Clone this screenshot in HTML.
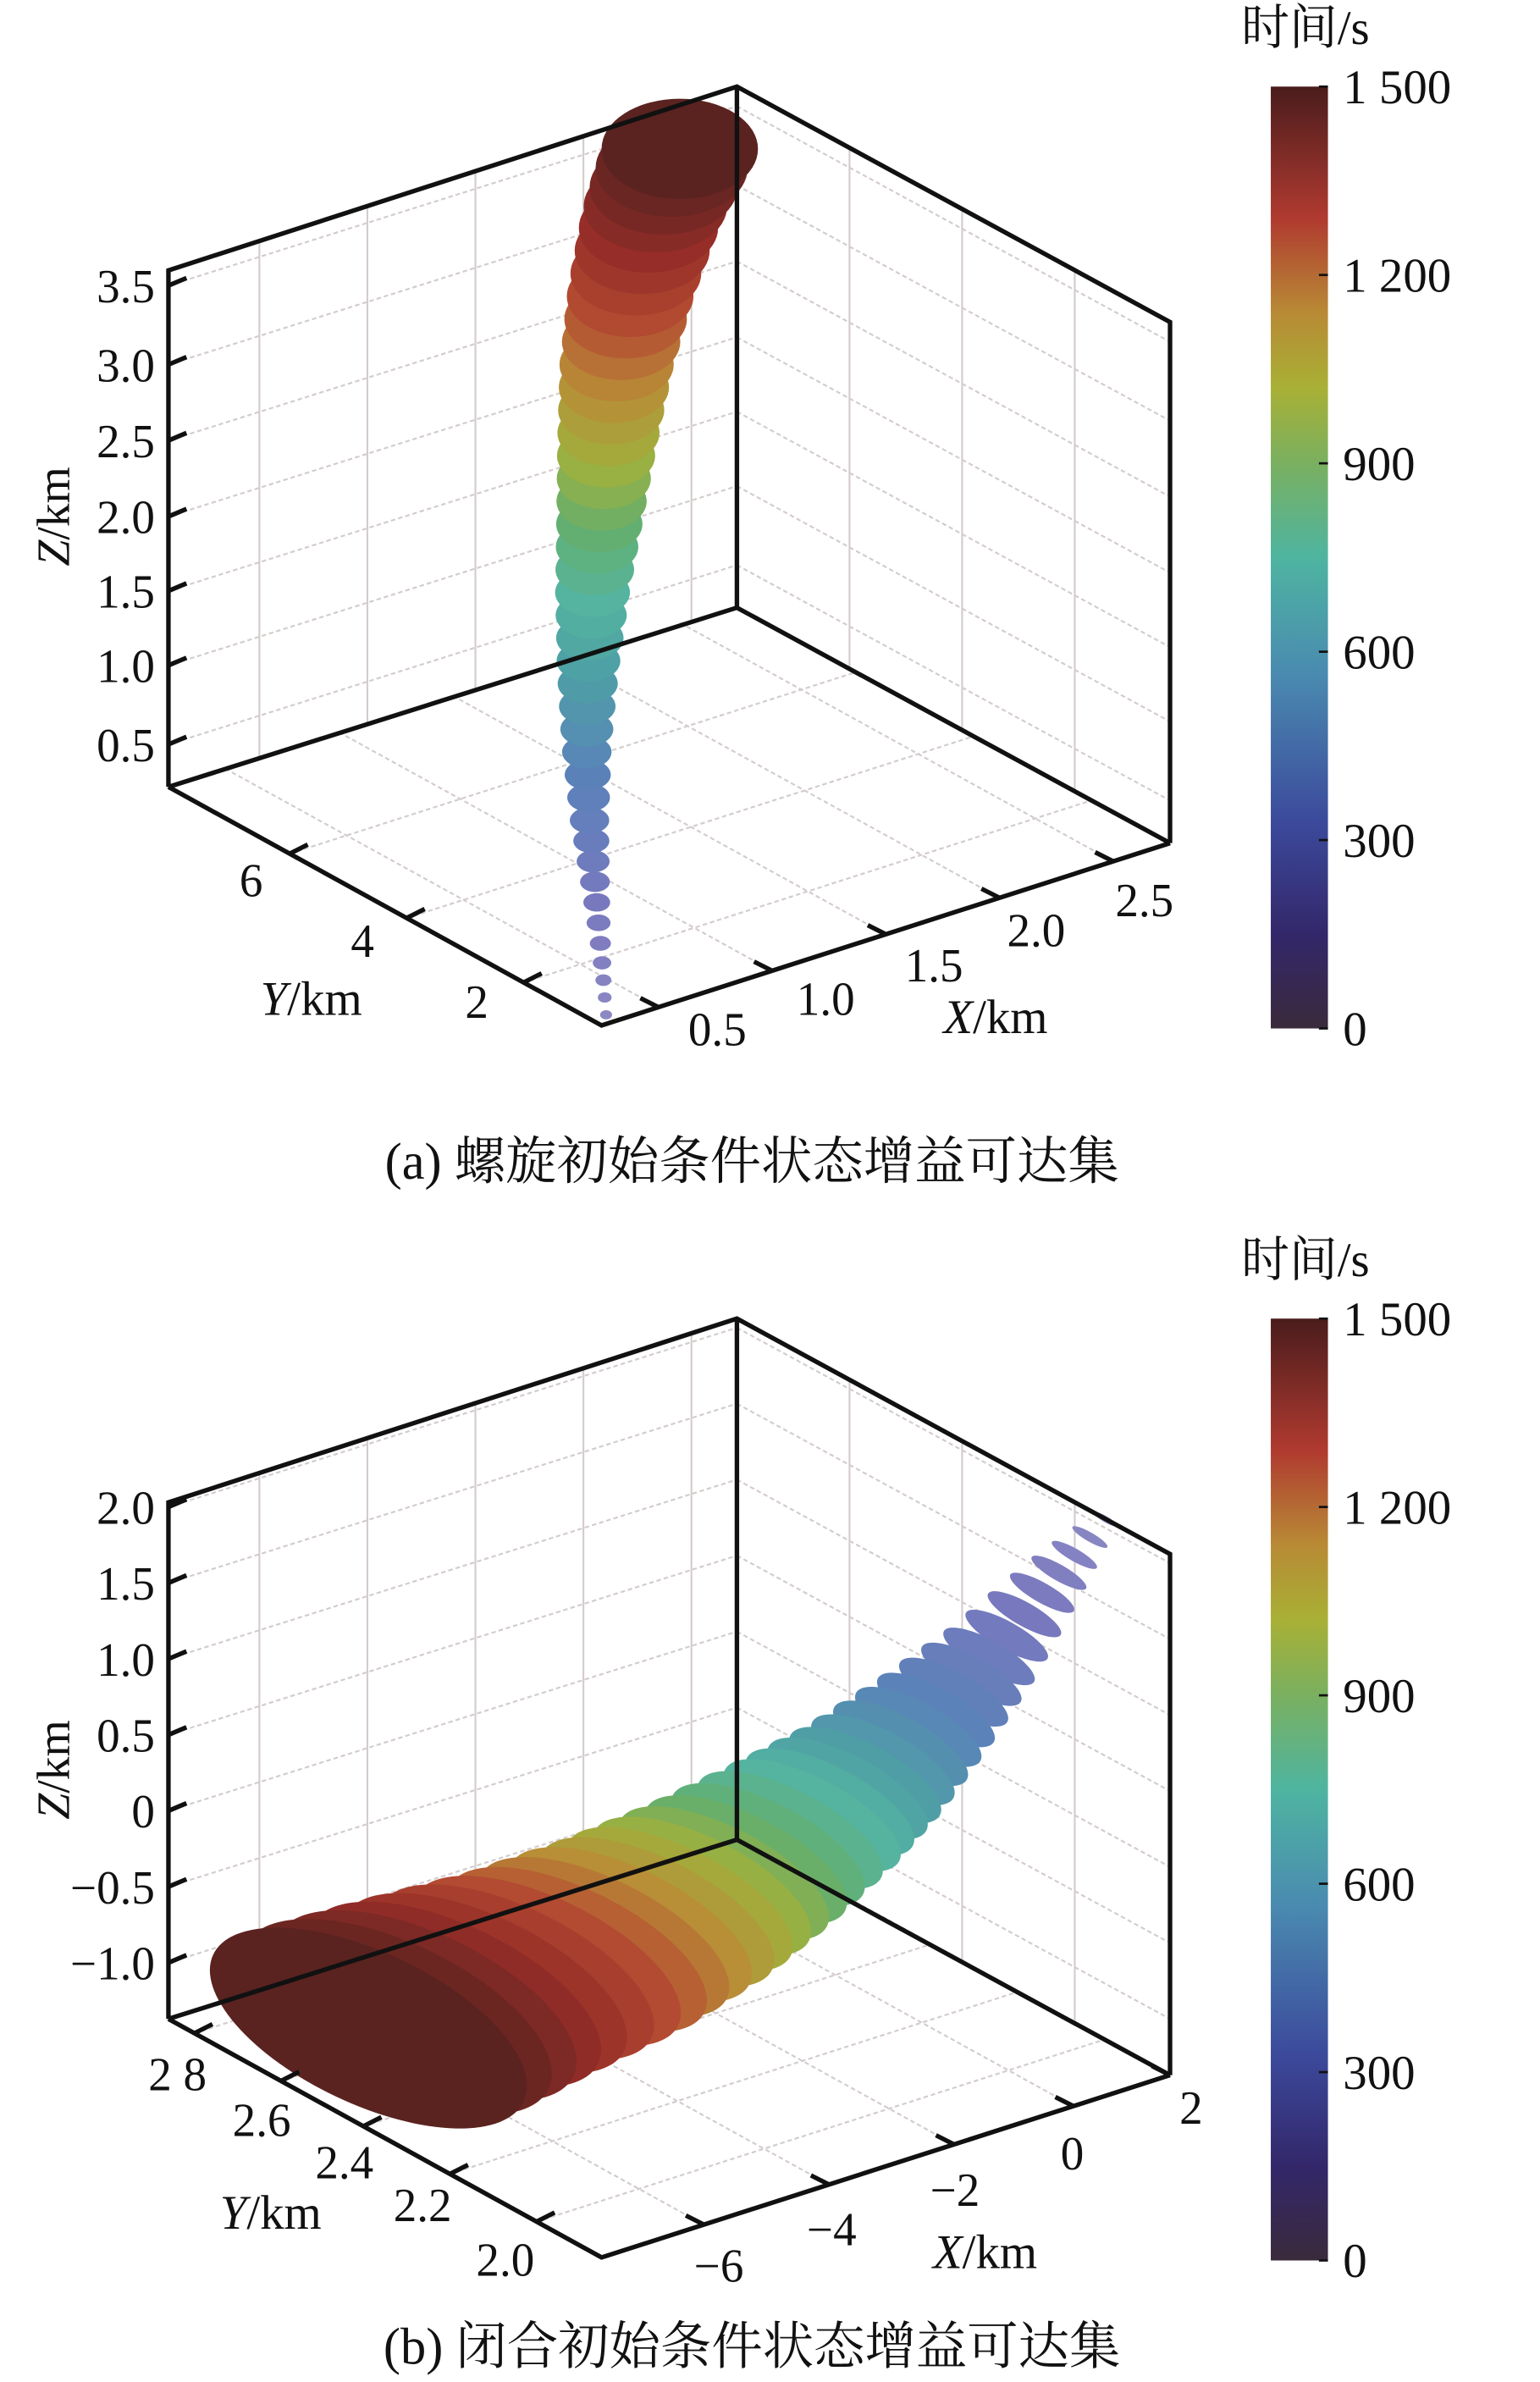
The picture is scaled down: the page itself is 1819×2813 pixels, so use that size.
<!DOCTYPE html>
<html><head><meta charset="utf-8"><style>
html,body{margin:0;padding:0;background:#fff;overflow:hidden}
svg{display:block}
text{font-family:"Liberation Serif","Noto Serif CJK SC",serif;fill:#111}
</style></head><body>
<svg id="s" width="1819" height="2813" viewBox="0 0 1024 1568" preserveAspectRatio="none" xmlns="http://www.w3.org/2000/svg">
<defs>
<linearGradient id="cb" x1="0" y1="1" x2="0" y2="0">
<stop offset="0" stop-color="#3a2a3c"/>
<stop offset="0.1" stop-color="#33276a"/>
<stop offset="0.22" stop-color="#3c4a9c"/>
<stop offset="0.38" stop-color="#4a8cb0"/>
<stop offset="0.5" stop-color="#4eb4a0"/>
<stop offset="0.6" stop-color="#7ab060"/>
<stop offset="0.68" stop-color="#a8b035"/>
<stop offset="0.76" stop-color="#b88a35"/>
<stop offset="0.86" stop-color="#b03a30"/>
<stop offset="1" stop-color="#4a1c1c"/>
</linearGradient>
</defs>
<g id="grid" stroke="#d4cccc" stroke-width="1.2" fill="none"></g>
<g id="traj"></g>
<g id="axes" stroke="#111" stroke-width="3" fill="none"></g>
<g id="txt"></g>
</svg>
<script>
const NS="http://www.w3.org/2000/svg";
function el(p,n,a,t){const e=document.createElementNS(NS,n);for(const k in a)e.setAttribute(k,a[k]);if(t!==undefined)e.textContent=t;document.getElementById(p).appendChild(e);return e;}
function line(p,x1,y1,x2,y2,extra){const a={x1,y1,x2,y2};Object.assign(a,extra||{});el(p,'line',a);}
function txt(x,y,s,size,anchor,extra){const a={x,y,'font-size':size,'text-anchor':anchor||'start'};Object.assign(a,extra||{});const e=el('txt','text',a);e.innerHTML=s;return e;}
const stops=[[0,[140,136,196]],[0.15,[120,120,190]],[0.3,[90,130,185]],[0.42,[78,160,165]],[0.5,[85,180,160]],[0.58,[100,175,110]],[0.66,[160,176,60]],[0.74,[185,140,55]],[0.82,[180,75,50]],[0.9,[150,45,40]],[1,[90,35,32]]];
function col(t){for(let i=1;i<stops.length;i++){if(t<=stops[i][0]){const a=stops[i-1],b=stops[i];const f=(t-a[0])/(b[0]-a[0]);const c=a[1].map((v,j)=>Math.round(v+(b[1][j]-v)*f));return `rgb(${c})`;}}return 'rgb(90,35,32)';}
function interp(pts,t){const n=pts.length-1;const f=t*n;const i=Math.min(Math.floor(f),n-1);const g=f-i;return [pts[i][0]+(pts[i+1][0]-pts[i][0])*g,pts[i][1]+(pts[i+1][1]-pts[i][1])*g];}

function plot(dy,zt,yt,xt){
 const TL=[112,178+dy],TM=[490,57+dy],TR=[778,212+dy],BL=[112,518+dy],BM=[490,400+dy],BR=[778,555+dy],F=[400,675+dy];
 const dash={'stroke-dasharray':'3,2'};
 for(const f of [0.16,0.35,0.54,0.73,0.92]){const x1=TL[0]+(TM[0]-TL[0])*f,y1=TL[1]+(TM[1]-TL[1])*f,y2=BL[1]+(BM[1]-BL[1])*f;line('grid',x1,y1,x1,y2);}
 for(const f of [0.26,0.52,0.78]){const x1=TM[0]+(TR[0]-TM[0])*f,y1=TM[1]+(TR[1]-TM[1])*f,y2=BM[1]+(BR[1]-BM[1])*f;line('grid',x1,y1,x1,y2);}
 for(const z of zt){const y=z[1];const yy=y-(BL[1]-BM[1]);line('grid',112,y,490,yy,dash);line('grid',490,yy,778,yy+(BR[1]-BM[1]),dash);}
 for(const f of yt){const p=[BL[0]+(F[0]-BL[0])*f[1],BL[1]+(F[1]-BL[1])*f[1]];line('grid',p[0],p[1],p[0]+(BR[0]-F[0]),p[1]+(BR[1]-F[1]),dash);}
 for(const f of xt){const p=[F[0]+(BR[0]-F[0])*f[1],F[1]+(BR[1]-F[1])*f[1]];line('grid',p[0],p[1],p[0]-(F[0]-BL[0]),p[1]-(F[1]-BL[1]),dash);}
 const pl=(pts)=>el('axes','polyline',{points:pts.map(p=>p.join(',')).join(' ')});
 pl([BL,TL,TM,TR,BR]);pl([TM,BM]);pl([BL,BM,BR]);pl([BL,F,BR]);
 for(const z of zt){line('axes',112,z[1],124,z[1]-5);txt(103,z[1]+11,z[0],31,'end');}
 for(const f of yt){const p=[BL[0]+(F[0]-BL[0])*f[1],BL[1]+(F[1]-BL[1])*f[1]];line('axes',p[0],p[1],p[0]+12,p[1]-6);txt(f[2],f[3],f[0],31,'middle');}
 for(const f of xt){const p=[F[0]+(BR[0]-F[0])*f[1],F[1]+(BR[1]-F[1])*f[1]];line('axes',p[0],p[1],p[0]-12,p[1]-6);txt(f[2],f[3],f[0],31,'middle');}
}
plot(0,[['3.5',188],['3.0',240],['2.5',290],['2.0',340],['1.5',389],['1.0',438],['0.5',490]],
 [['6',0.28,167,590],['4',0.55,241,630],['2',0.82,317,670]],
 [['0.5',0.1,477,688],['1.0',0.3,549,668],['1.5',0.5,621,646],['2.0',0.7,689,623],['2.5',0.9,761,603]]);
plot(811,[['2.0',992],['1.5',1042],['1.0',1092],['0.5',1142],['0',1192],['\u22120.5',1242],['\u22121.0',1292]],
 [['2 8',0.06,118,1376],['2.6',0.26,174,1406],['2.4',0.45,229,1434],['2.2',0.65,281,1462],['2.0',0.85,336,1498]],
 [['\u22126',0.18,478,1502],['\u22124',0.4,553,1478],['\u22122',0.62,635,1452],['0',0.83,713,1428],['2',1.0,792,1398]]);

const pa=[[403,668],[400,630],[396,585],[392,540],[390,490],[391,440],[394,390],[399,340],[404,290],[410,240],[420,190],[434,140],[452,98]];
for(let i=0;i<=40;i++){const t=i/40;const p=interp(pa,t);const rx=4+Math.pow(t,1.2)*48,ry=3+Math.pow(t,1.2)*30;el('traj','ellipse',{cx:p[0],cy:p[1],rx,ry,fill:col(t)});}
const pb=[[735,1000],[700,1040],[660,1088],[620,1128],[580,1165],[540,1195],[490,1228],[440,1257],[380,1285],[310,1310],[245,1335]];
for(let i=0;i<=34;i++){const t=i/34;const p=interp(pb,t);const rx=9+Math.pow(t,0.9)*105,ry=2+Math.pow(t,1.1)*48;el('traj','ellipse',{cx:p[0],cy:p[1],rx,ry,fill:col(t),transform:`rotate(${30-t*5} ${p[0]} ${p[1]})`});}

txt(207,668,'<tspan font-style="italic">Y</tspan>/km',32,'middle');
txt(662,680,'<tspan font-style="italic">X</tspan>/km',32,'middle');
txt(0,0,'<tspan font-style="italic">Z</tspan>/km',31,'middle',{transform:'translate(46,340) rotate(-90)'});
txt(180,1467,'<tspan font-style="italic">Y</tspan>/km',32,'middle');
txt(655,1493,'<tspan font-style="italic">X</tspan>/km',32,'middle');
txt(0,0,'<tspan font-style="italic">Z</tspan>/km',31,'middle',{transform:'translate(46,1165) rotate(-90)'});
for(const dy of [0,811]){
 el('txt','rect',{x:845,y:57+dy,width:38,height:620,fill:'url(#cb)'});
 const labs=['1 500','1 200','900','600','300','0'];
 labs.forEach((l,i)=>{const y=57+dy+i*124;el('txt','line',{x1:877,y1:y,x2:883,y2:y,stroke:'#111','stroke-width':1.5});txt(893,y+11,l,32,'start');});
 txt(868,dy+29,'时间/s',32,'middle');
}
txt(500,776,'(a) 螺旋初始条件状态增益可达集',34,'middle');
txt(500,1556,'(b) 闭合初始条件状态增益可达集',34,'middle');
</script>
</body></html>
